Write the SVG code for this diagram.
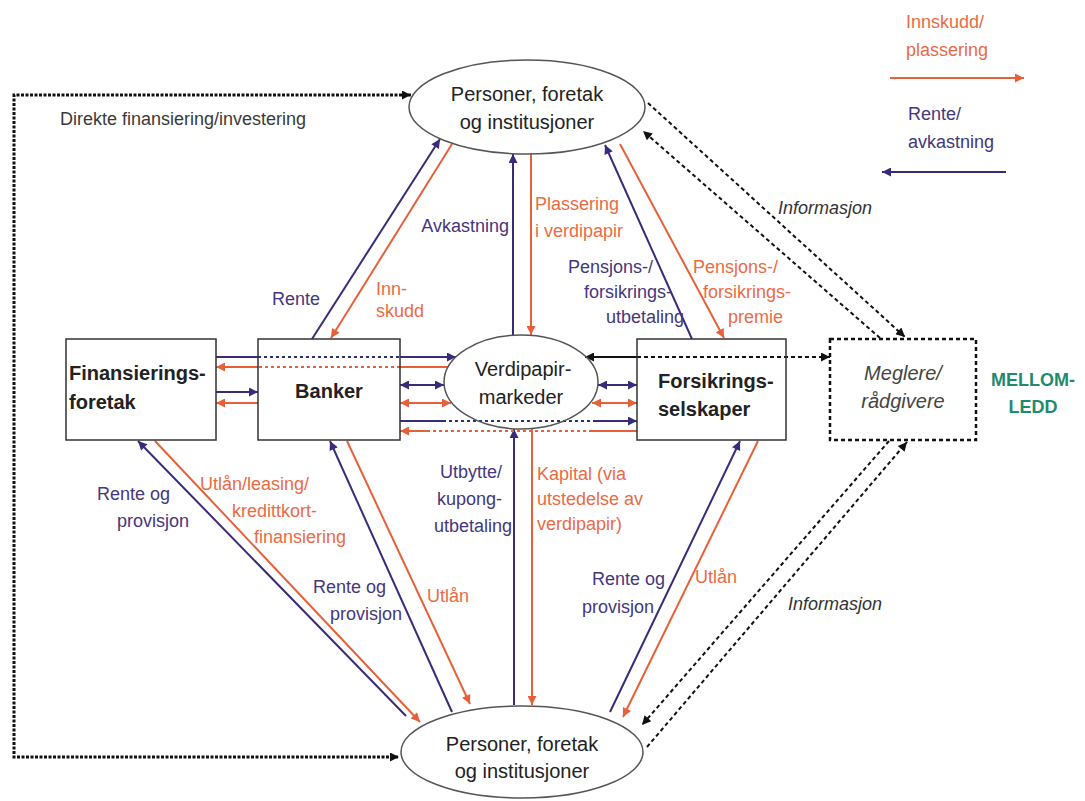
<svg xmlns="http://www.w3.org/2000/svg" width="1085" height="801" viewBox="0 0 1085 801">
<defs>
<marker id="aP" viewBox="0 0 10 10" refX="10" refY="5" markerWidth="11" markerHeight="9" markerUnits="userSpaceOnUse" orient="auto-start-reverse"><path d="M0,0 L10,5 L0,10 z" fill="#3a2b7a"/></marker>
<marker id="aO" viewBox="0 0 10 10" refX="10" refY="5" markerWidth="11" markerHeight="9" markerUnits="userSpaceOnUse" orient="auto-start-reverse"><path d="M0,0 L10,5 L0,10 z" fill="#e8603a"/></marker>
<marker id="aK" viewBox="0 0 10 10" refX="10" refY="5" markerWidth="11" markerHeight="9" markerUnits="userSpaceOnUse" orient="auto-start-reverse"><path d="M0,0 L10,5 L0,10 z" fill="#111"/></marker>
<style>
.p{stroke:#3a2b7a;stroke-width:2;fill:none}
.o{stroke:#e8603a;stroke-width:2;fill:none}
.pa{marker-end:url(#aP)}
.oa{marker-end:url(#aO)}
.d{stroke-dasharray:3 3}
.k{stroke:#111;stroke-width:2;fill:none;stroke-dasharray:4 3}
.ka{marker-end:url(#aK)}
.node{fill:#fff;stroke:#555;stroke-width:1.5}
.box{fill:none;stroke:#333;stroke-width:1.5}
text{font-family:"Liberation Sans",Arial,sans-serif}
.nt{font-size:20px;fill:#222;text-anchor:middle}
.bt{font-size:20px;font-weight:bold;fill:#222}
.lp{font-size:18px;fill:#44377e}
.lo{font-size:18px;fill:#ec6a44}
.li{font-size:18px;fill:#333;font-style:italic}
.e{text-anchor:end}
</style>
</defs>
<rect width="1085" height="801" fill="#fff"/>

<g id="connectors">
<path d="M411,95 L14,95 L14,757 L399,757" fill="none" stroke="#111" stroke-width="3" stroke-dasharray="3 1.5" marker-start="url(#aK)" marker-end="url(#aK)"/>
<line class="p pa" x1="312" y1="339" x2="440" y2="139"/>
<line class="o oa" x1="452" y1="144" x2="331" y2="338"/>
<line class="p pa" x1="513" y1="335" x2="513" y2="154"/>
<line class="o oa" x1="531" y1="154" x2="531" y2="335"/>
<line class="p pa" x1="692" y1="339" x2="605" y2="145"/>
<line class="o oa" x1="620" y1="144" x2="724" y2="338"/>
<line class="k ka" x1="648" y1="103" x2="905" y2="337"/>
<line class="k ka" x1="880" y1="338" x2="643" y2="131"/>
<line class="k ka" x1="889" y1="441" x2="642" y2="725"/>
<line class="k ka" x1="647" y1="747" x2="907" y2="442"/>
<line class="p pa" x1="406" y1="716" x2="138" y2="441"/>
<line class="o oa" x1="155" y1="441" x2="420" y2="722"/>
<line class="p pa" x1="452" y1="712" x2="330" y2="441"/>
<line class="o oa" x1="347" y1="441" x2="470" y2="704"/>
<line class="p pa" x1="514" y1="705" x2="514" y2="429"/>
<line class="o oa" x1="532" y1="429" x2="532" y2="705"/>
<line class="p pa" x1="610" y1="712" x2="740" y2="441"/>
<line class="o oa" x1="758" y1="441" x2="623" y2="717"/>
<line class="p" x1="216" y1="357" x2="258" y2="357"/>
<line class="p d" x1="258" y1="357" x2="400" y2="357"/>
<line class="p pa" x1="400" y1="357" x2="456" y2="357"/>
<line class="o" x1="448" y1="367" x2="400" y2="367"/>
<line class="o d" x1="400" y1="367" x2="258" y2="367"/>
<line class="o oa" x1="258" y1="367" x2="216" y2="367"/>
<line class="p pa" x1="216" y1="392" x2="258" y2="392"/>
<line class="o oa" x1="258" y1="403" x2="216" y2="403"/>
<line class="p" x1="400" y1="385" x2="444" y2="385" marker-start="url(#aP)" marker-end="url(#aP)"/>
<line class="o" x1="400" y1="403" x2="451" y2="403" marker-start="url(#aO)" marker-end="url(#aO)"/>
<line class="p" x1="598" y1="385" x2="637" y2="385" marker-start="url(#aP)" marker-end="url(#aP)"/>
<line class="o" x1="592" y1="403" x2="637" y2="403" marker-start="url(#aO)" marker-end="url(#aO)"/>
<line class="p" x1="400" y1="421" x2="443" y2="421"/>
<line class="p d" x1="443" y1="421" x2="593" y2="421"/>
<line class="p pa" x1="593" y1="421" x2="637" y2="421"/>
<line class="o" x1="637" y1="431" x2="592" y2="431"/>
<line class="o d" x1="592" y1="431" x2="428" y2="431"/>
<line class="o oa" x1="428" y1="431" x2="400" y2="431"/>
<line x1="637" y1="357" x2="585" y2="357" stroke="#111" stroke-width="2" marker-end="url(#aK)"/>
<line class="k ka" x1="637" y1="357" x2="830" y2="357"/>
<line class="o oa" x1="890" y1="78" x2="1024" y2="78"/>
<line class="p pa" x1="1006" y1="172" x2="882" y2="172"/>
</g>

<g id="top-personer">
<ellipse class="node" cx="527" cy="107" rx="118" ry="47"/>
<text class="nt" x="527" y="101">Personer, foretak</text>
<text class="nt" x="527" y="129">og institusjoner</text>
</g>
<g id="bottom-personer">
<ellipse class="node" cx="522" cy="752" rx="121" ry="46"/>
<text class="nt" x="522" y="751">Personer, foretak</text>
<text class="nt" x="522" y="778">og institusjoner</text>
</g>
<g id="verdipapir">
<ellipse cx="521" cy="382" rx="77" ry="47" fill="none" stroke="#555" stroke-width="1.5"/>
<text class="nt" x="523" y="376">Verdipapir-</text>
<text class="nt" x="521" y="404">markeder</text>
</g>
<g id="finans">
<rect class="box" x="66" y="339" width="150" height="101"/>
<text class="bt" x="69" y="380">Finansierings-</text>
<text class="bt" x="69" y="409">foretak</text>
</g>
<g id="banker">
<rect class="box" x="258" y="339" width="142" height="101"/>
<text class="bt" x="329" y="398" text-anchor="middle">Banker</text>
</g>
<g id="forsikring">
<rect class="box" x="637" y="339" width="149" height="101"/>
<text class="bt" x="658" y="388">Forsikrings-</text>
<text class="bt" x="658" y="416">selskaper</text>
</g>
<g id="meglere">
<rect x="830" y="339" width="146" height="101" fill="none" stroke="#111" stroke-width="2.5" stroke-dasharray="4 3"/>
<text class="nt" x="903" y="380" style="font-style:italic;fill:#444">Meglere/</text>
<text class="nt" x="903" y="408" style="font-style:italic;fill:#444">rådgivere</text>
</g>
<g id="mellomledd">
<text x="1033" y="386" text-anchor="middle" font-size="18" font-weight="bold" fill="#1f8a6e">MELLOM-</text>
<text x="1033" y="413" text-anchor="middle" font-size="18" font-weight="bold" fill="#1f8a6e">LEDD</text>
</g>

<g id="labels">
<text x="60" y="125" font-size="18" fill="#3a3a3a">Direkte finansiering/investering</text>
<text class="lp" x="272" y="305">Rente</text>
<text class="lo" x="376" y="295">Inn-</text>
<text class="lo" x="376" y="317">skudd</text>
<text class="lp e" x="509" y="232">Avkastning</text>
<text class="lo" x="535" y="210">Plassering</text>
<text class="lo" x="535" y="237">i verdipapir</text>
<text class="lp e" x="653" y="273">Pensjons-/</text>
<text class="lp e" x="672" y="298">forsikrings-</text>
<text class="lp e" x="684" y="323">utbetaling</text>
<text class="lo" x="693" y="273">Pensjons-/</text>
<text class="lo" x="703" y="298">forsikrings-</text>
<text class="lo" x="728" y="323">premie</text>
<text class="li" x="778" y="214">Informasjon</text>
<text class="li" x="788" y="610">Informasjon</text>
<text class="lo" x="906" y="28">Innskudd/</text>
<text class="lo" x="906" y="56">plassering</text>
<text class="lp" x="908" y="120">Rente/</text>
<text class="lp" x="908" y="148">avkastning</text>
<text class="lp" x="97" y="500">Rente og</text>
<text class="lp" x="117" y="527">provisjon</text>
<text class="lo" x="200" y="490">Utlån/leasing/</text>
<text class="lo" x="232" y="517">kredittkort-</text>
<text class="lo" x="254" y="543">finansiering</text>
<text class="lp" x="313" y="593">Rente og</text>
<text class="lp" x="330" y="620">provisjon</text>
<text class="lo" x="427" y="602">Utlån</text>
<text class="lp e" x="502" y="478">Utbytte/</text>
<text class="lp e" x="502" y="505">kupong-</text>
<text class="lp e" x="512" y="532">utbetaling</text>
<text class="lo" x="537" y="480">Kapital (via</text>
<text class="lo" x="537" y="505">utstedelse av</text>
<text class="lo" x="537" y="530">verdipapir)</text>
<text class="lp" x="592" y="585">Rente og</text>
<text class="lp" x="582" y="613">provisjon</text>
<text class="lo" x="695" y="583">Utlån</text>
</g>
</svg>
